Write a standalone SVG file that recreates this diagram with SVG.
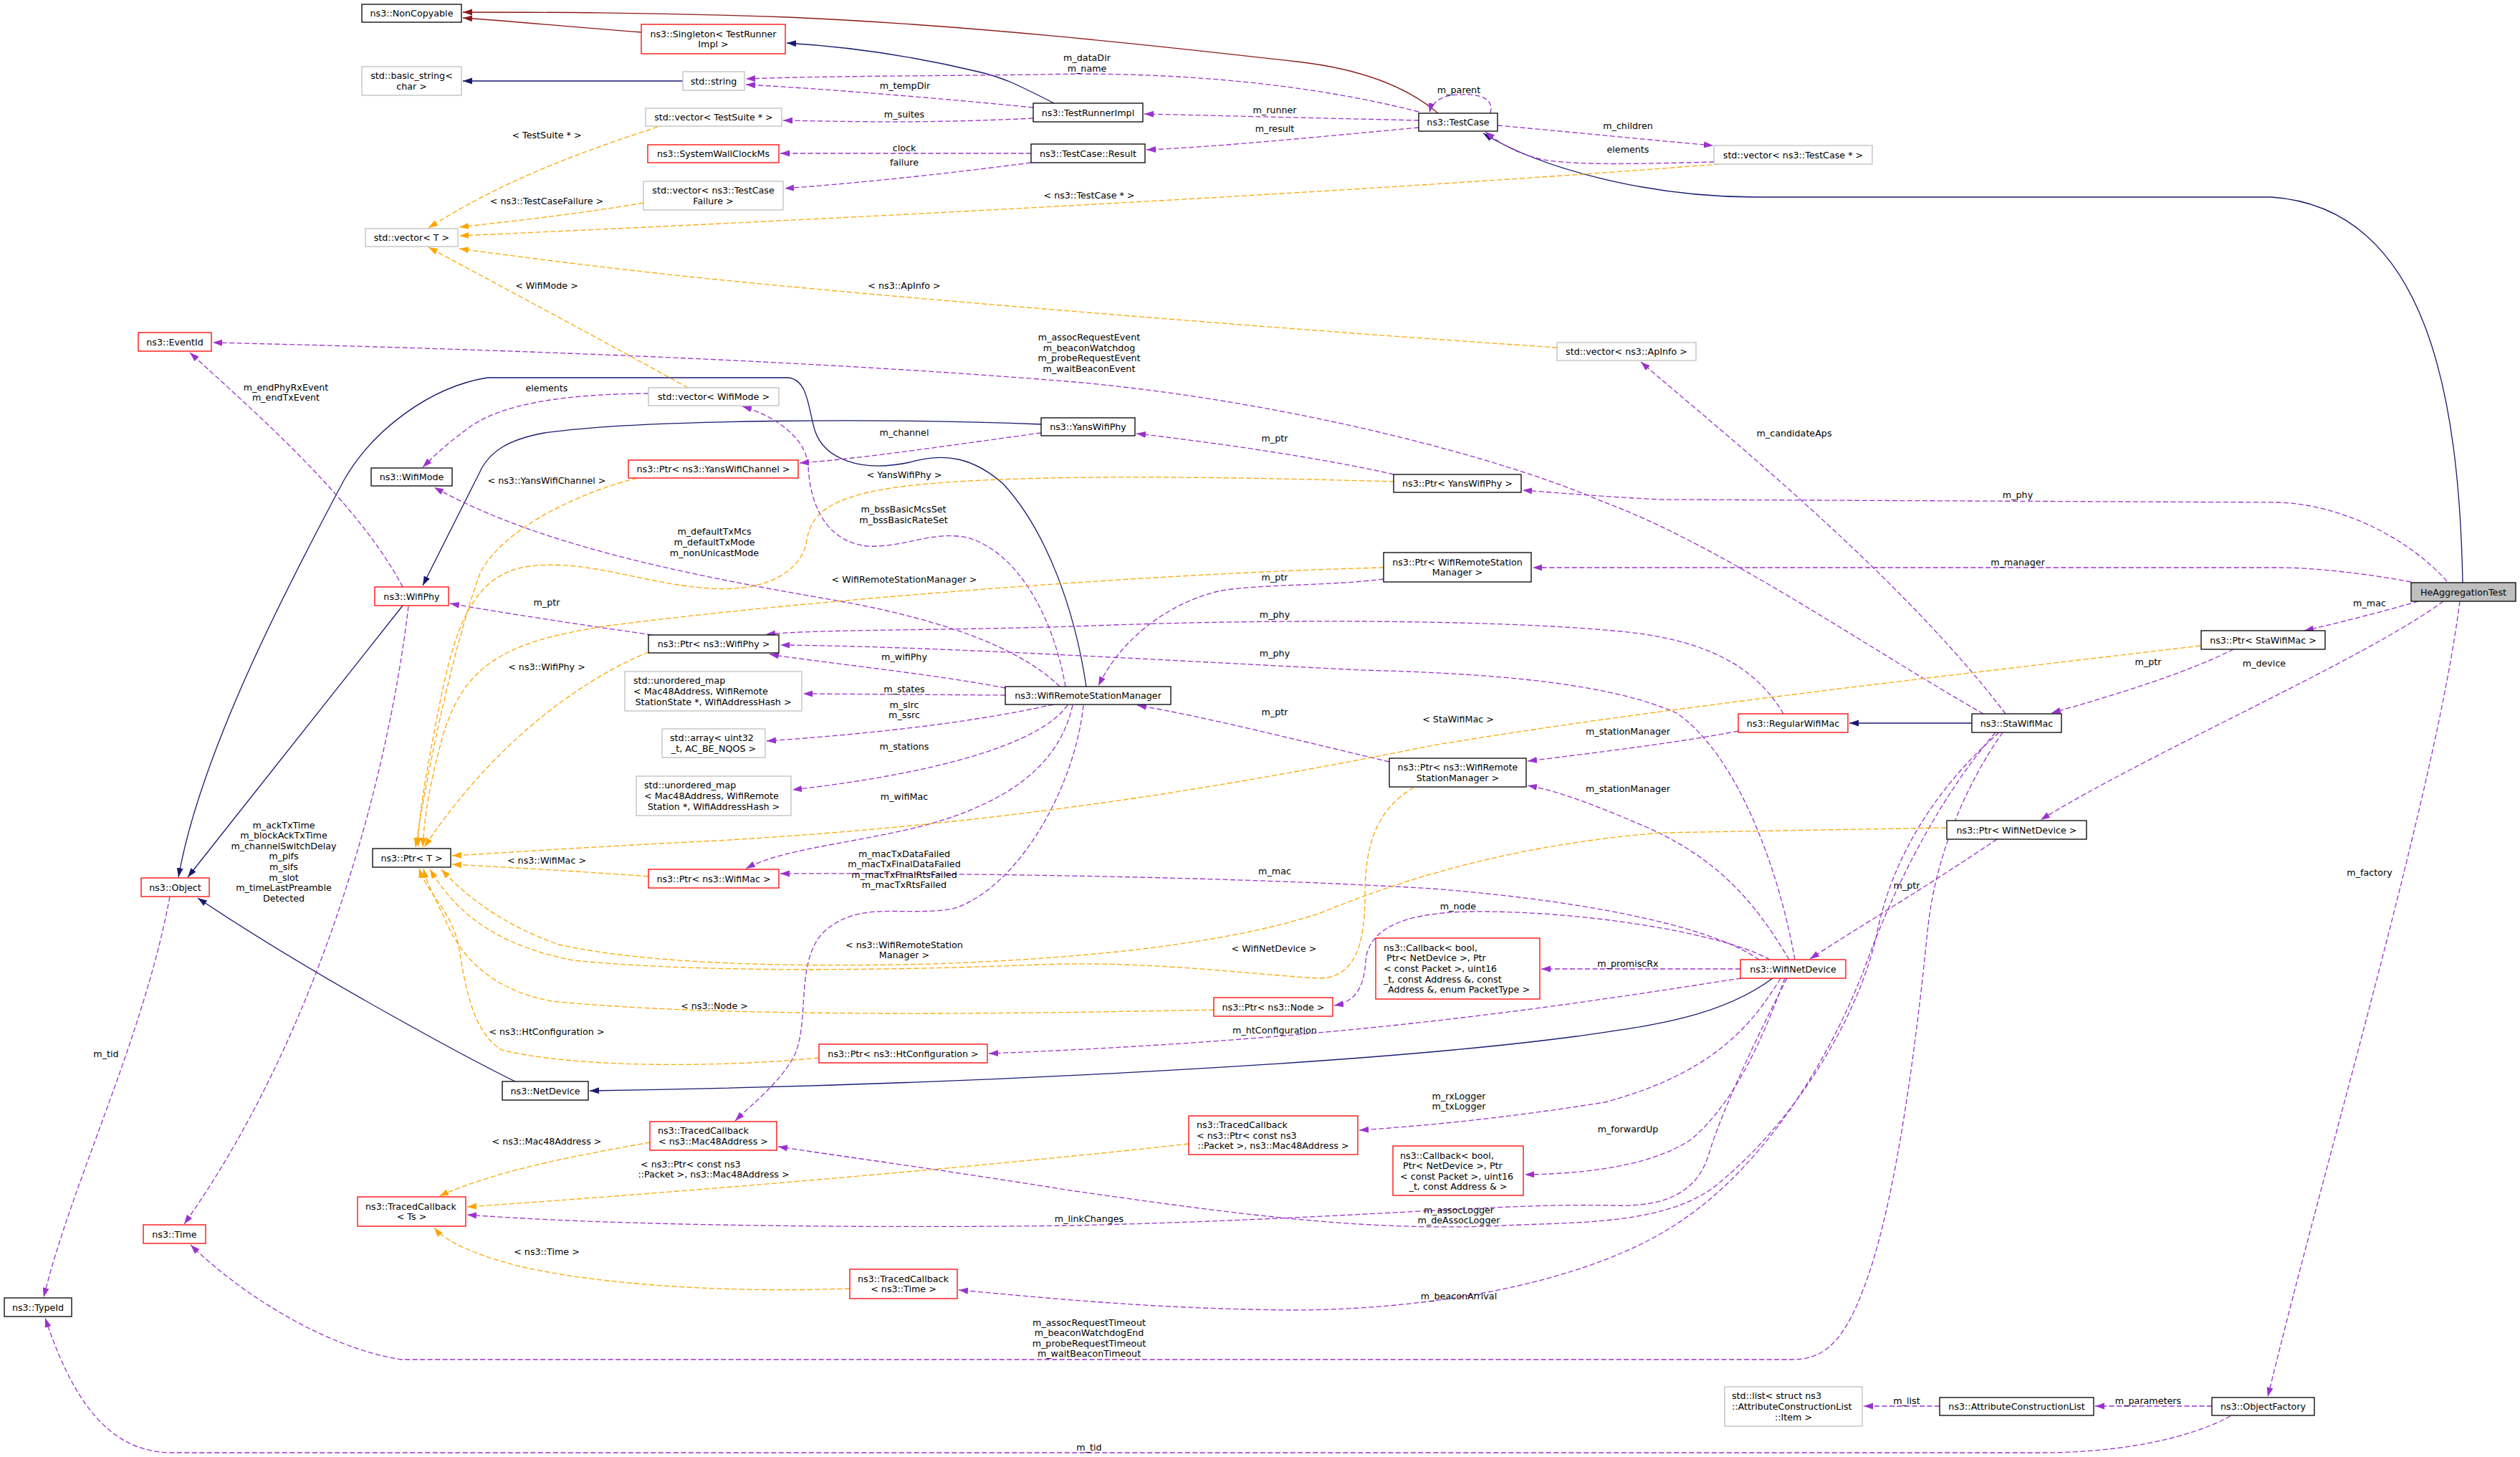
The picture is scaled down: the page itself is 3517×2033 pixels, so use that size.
<svg xmlns="http://www.w3.org/2000/svg" width="3517" height="2033" viewBox="0 0 3517 2033">
<style>
text{font-family:"DejaVu Sans","Liberation Sans",sans-serif;font-size:12.7px;fill:#000}
.c{text-anchor:middle}
.bk{fill:#fff;stroke:#000;stroke-width:1.3}
.rd{fill:#fff;stroke:#f00;stroke-width:1.3}
.gy{fill:#fff;stroke:#bfbfbf;stroke-width:1.3}
.hl{fill:#bfbfbf;stroke:#000;stroke-width:1.3}
.e{fill:none;stroke-width:1.3}
.u{stroke:#9a32cd;stroke-dasharray:7,3.5;marker-end:url(#mp)}
.t{stroke:#ffa500;stroke-dasharray:7,3.5;marker-end:url(#mo)}
.i{stroke:#191970;marker-end:url(#mb)}
.r{stroke:#8b1a1a;marker-end:url(#mr)}
</style>
<defs>
<marker id="mp" markerUnits="userSpaceOnUse" markerWidth="14" markerHeight="10" viewBox="0 0 14 10" refX="13" refY="5" orient="auto"><path d="M0,0.5 L13,5 L0,9.5 z" fill="#9a32cd"/></marker>
<marker id="mo" markerUnits="userSpaceOnUse" markerWidth="14" markerHeight="10" viewBox="0 0 14 10" refX="13" refY="5" orient="auto"><path d="M0,0.5 L13,5 L0,9.5 z" fill="#ffa500"/></marker>
<marker id="mb" markerUnits="userSpaceOnUse" markerWidth="14" markerHeight="10" viewBox="0 0 14 10" refX="13" refY="5" orient="auto"><path d="M0,0.5 L13,5 L0,9.5 z" fill="#191970"/></marker>
<marker id="mr" markerUnits="userSpaceOnUse" markerWidth="14" markerHeight="10" viewBox="0 0 14 10" refX="13" refY="5" orient="auto"><path d="M0,0.5 L13,5 L0,9.5 z" fill="#8b1a1a"/></marker>
</defs>
<rect width="3517" height="2033" fill="#fff"/>
<g id="edges">
<path class="e r" d="M895,45 C800,38 720,30 646,25"/>
<path class="e r" d="M2007,158 C1960,118 1890,95 1810,86 C1600,62 1350,35 1100,24 C900,17 750,17 646,17"/>
<path class="e i" d="M1471,144 C1420,118 1400,108 1365,100 C1290,82 1200,66 1098,60"/>
<path class="e i" d="M953,113 L646,113"/>
<path class="e i" d="M3437,813 C3432,560 3390,290 3170,275 L2450,275 C2300,275 2150,235 2070,186"/>
<path class="e i" d="M562,845 L262,1224"/>
<path class="e i" d="M1453,592 C1250,584 900,584 760,604 C705,614 685,632 673,652 L590,817"/>
<path class="e i" d="M1516,958 C1500,850 1460,740 1400,675 C1360,640 1320,630 1270,645 C1200,660 1150,640 1137,600 C1128,570 1128,530 1100,527 L680,527 C600,540 520,600 480,670 C400,820 280,1050 249,1224"/>
<path class="e i" d="M719,1509 C680,1490 450,1370 276,1253"/>
<path class="e i" d="M2474,1365 C2400,1420 2300,1432 2200,1446 C1900,1486 1300,1515 823,1522"/>
<path class="e i" d="M2752,1009 L2581,1009"/>

<path class="e u" d="M1980,156 C1800,110 1600,100 1450,104 C1300,106 1150,106 1041,110"/>
<path class="e u" d="M1442,150 C1300,136 1150,124 1041,118"/>
<path class="e u" d="M1442,165 C1300,172 1200,170 1093,168"/>
<path class="e u" d="M1980,168 L1597,159"/>
<path class="e u" d="M1980,178 C1850,190 1700,205 1600,209"/>
<path class="e u" d="M1439,214 L1089,214"/>
<path class="e u" d="M1439,227 C1300,245 1200,255 1095,263"/>
<path class="e u" d="M2080,158 C2086,135 2062,131 2036,132 C2010,133 1998,144 1995,157"/>
<path class="e u" d="M2090,175 C2200,185 2300,195 2391,203"/>
<path class="e u" d="M2392,226 C2300,228 2200,232 2150,222 C2110,212 2090,197 2073,184"/>
<path class="e u" d="M905,549 C800,550 700,560 650,600 C620,622 602,640 590,652"/>
<path class="e u" d="M2768,996 C2600,900 2400,760 2237,700 C2100,640 1800,560 1500,533 C1100,500 600,485 297,478"/>
<path class="e u" d="M2799,996 C2650,800 2400,600 2290,505"/>
<path class="e u" d="M1453,604 C1300,625 1200,640 1116,646"/>
<path class="e u" d="M1945,662 C1850,640 1700,618 1586,605"/>
<path class="e u" d="M3415,811 C3370,760 3280,705 3180,701 L2320,697 C2250,694 2180,688 2125,684"/>
<path class="e u" d="M3365,812 C3300,800 3230,792 3180,792 L2139,792"/>
<path class="e u" d="M3375,839 C3320,855 3260,870 3216,880"/>
<path class="e u" d="M3410,839 C3300,920 3000,1050 2848,1144"/>
<path class="e u" d="M3433,839 C3400,1100 3250,1600 3165,1949"/>
<path class="e u" d="M3117,906 C3050,940 2950,970 2863,995"/>
<path class="e u" d="M2787,1171 C2700,1230 2600,1290 2526,1338"/>
<path class="e u" d="M1931,808 C1850,818 1750,815 1700,825 C1620,845 1560,900 1533,957"/>
<path class="e u" d="M910,886 C800,870 700,855 628,842"/>
<path class="e u" d="M1479,958 C1420,900 1300,860 1150,835 C950,800 750,760 606,680"/>
<path class="e u" d="M1487,958 C1470,860 1420,770 1350,750 C1300,740 1260,765 1210,762 C1150,755 1130,700 1128,650 C1125,610 1080,580 1036,567"/>
<path class="e u" d="M1403,960 C1300,940 1150,925 1074,913"/>
<path class="e u" d="M1403,970 L1121,968"/>
<path class="e u" d="M1470,983 C1350,1010 1200,1025 1070,1034"/>
<path class="e u" d="M1490,984 C1450,1040 1300,1080 1106,1102"/>
<path class="e u" d="M1497,984 C1480,1060 1420,1110 1320,1143 C1220,1175 1100,1180 1041,1212"/>
<path class="e u" d="M1512,984 C1500,1100 1420,1240 1330,1268 C1260,1280 1200,1255 1150,1300 C1110,1340 1130,1420 1110,1470 C1090,1510 1050,1540 1026,1564"/>
<path class="e u" d="M1939,1063 C1800,1030 1680,1000 1587,984"/>
<path class="e u" d="M2426,1020 C2350,1035 2230,1050 2132,1062"/>
<path class="e u" d="M2497,1339 C2450,1260 2400,1200 2300,1155 C2230,1125 2180,1105 2132,1096"/>
<path class="e u" d="M2489,996 C2450,930 2380,890 2250,880 C2100,866 1800,862 1500,874 C1300,880 1150,878 1069,885"/>
<path class="e u" d="M2505,1339 C2480,1200 2420,1050 2340,995 C2250,955 2100,940 1900,935 C1600,920 1300,902 1089,900"/>
<path class="e u" d="M2455,1339 C2400,1300 2250,1260 2000,1240 C1700,1222 1300,1218 1089,1219"/>
<path class="e u" d="M2470,1339 C2400,1300 2200,1270 2050,1272 C1950,1274 1910,1300 1906,1340 C1904,1380 1890,1398 1862,1403"/>
<path class="e u" d="M2429,1352 L2151,1352"/>
<path class="e u" d="M2430,1365 C2200,1400 1900,1450 1380,1470"/>
<path class="e u" d="M2485,1365 C2440,1440 2380,1500 2240,1538 C2100,1560 2000,1570 1897,1577"/>
<path class="e u" d="M2491,1365 C2460,1450 2420,1540 2360,1590 C2300,1630 2200,1638 2128,1639"/>
<path class="e u" d="M2494,1365 C2440,1470 2400,1560 2385,1610 C2370,1660 2330,1685 2250,1682 C2100,1678 1900,1700 1500,1710 C1200,1714 850,1710 652,1695"/>
<path class="e u" d="M2790,1022 C2700,1100 2640,1200 2620,1300 C2600,1400 2520,1550 2400,1650 C2330,1710 2200,1705 2100,1710 C1900,1720 1700,1690 1500,1662 C1300,1630 1150,1610 1086,1600"/>
<path class="e u" d="M2785,1022 C2700,1120 2640,1250 2610,1330 C2560,1470 2460,1640 2320,1720 C2200,1790 2000,1828 1800,1828 C1600,1826 1450,1810 1338,1800"/>
<path class="e u" d="M2795,1022 C2740,1100 2700,1200 2690,1300 C2670,1500 2640,1700 2600,1800 C2570,1880 2540,1897 2500,1897 L560,1897 C450,1880 330,1800 266,1737"/>
<path class="e u" d="M3113,1976 C3050,2010 2950,2027 2850,2027 L240,2027 C150,2027 100,1950 63,1839"/>
<path class="e u" d="M237,1251 C200,1450 100,1650 61,1810"/>
<path class="e u" d="M562,819 C500,700 350,570 265,492"/>
<path class="e u" d="M570,846 C540,1100 440,1450 257,1708"/>
<path class="e u" d="M3087,1962 L2924,1962"/>
<path class="e u" d="M2707,1962 L2601,1962"/>

<path class="e t" d="M2400,229 C2000,260 1400,295 641,329"/>
<path class="e t" d="M918,177 C850,200 720,240 598,318"/>
<path class="e t" d="M898,283 C800,300 700,310 641,317"/>
<path class="e t" d="M2173,485 C1800,460 1300,420 1000,390 C850,375 700,355 641,347"/>
<path class="e t" d="M960,541 C850,480 700,400 598,345"/>
<path class="e t" d="M889,667 C800,690 700,740 670,800 C640,880 600,1050 580,1182"/>
<path class="e t" d="M1946,672 C1700,665 1400,660 1250,680 C1150,695 1130,720 1125,760 C1110,810 1050,825 990,821 C900,815 820,780 740,790 C650,800 630,900 610,1000 C595,1080 585,1130 583,1182"/>
<path class="e t" d="M1931,792 C1600,800 1100,840 850,873 C700,895 650,930 620,1020 C600,1090 592,1140 590,1182"/>
<path class="e t" d="M905,910 C830,940 700,1020 592,1182"/>
<path class="e t" d="M3071,901 C2700,945 2300,990 2000,1040 C1700,1100 1400,1150 1000,1173 C800,1183 700,1190 631,1194"/>
<path class="e t" d="M905,1223 C800,1215 700,1210 631,1206"/>
<path class="e t" d="M2716,1155 L2317,1162 C2100,1180 1950,1230 1840,1275 C1700,1320 1500,1338 1300,1345 C1100,1350 900,1345 780,1318 C700,1290 650,1250 616,1213"/>
<path class="e t" d="M1973,1099 C1920,1130 1905,1180 1905,1250 C1905,1320 1890,1365 1840,1365 C1750,1360 1600,1340 1450,1346 C1300,1352 1000,1360 800,1340 C700,1320 640,1280 600,1213"/>
<path class="e t" d="M1694,1409 C1400,1415 1000,1420 770,1397 C680,1380 640,1330 620,1280 C605,1250 595,1230 591,1212"/>
<path class="e t" d="M1143,1476 C1000,1490 800,1490 700,1465 C660,1440 650,1380 640,1320 C630,1270 595,1245 585,1212"/>
<path class="e t" d="M907,1594 C820,1610 700,1630 613,1669"/>
<path class="e t" d="M1659,1596 C1400,1625 1000,1660 652,1684"/>
<path class="e t" d="M1186,1798 C1000,1805 800,1790 700,1760 C650,1745 620,1730 606,1713"/>

<g class="c">
<text x="1517" y="85">m_dataDir</text><text x="1517" y="100">m_name</text>
<text x="1263" y="123.5">m_tempDir</text>
<text x="1262" y="163.5">m_suites</text>
<text x="1779" y="157.5">m_runner</text>
<text x="1779" y="183.5">m_result</text>
<text x="1262" y="210.5">clock</text>
<text x="1262" y="230.5">failure</text>
<text x="2036" y="129.5">m_parent</text>
<text x="2272" y="179.5">m_children</text>
<text x="2272" y="212.5">elements</text>
<text x="1520" y="276.5">&lt; ns3::TestCase * &gt;</text>
<text x="763" y="192.5">&lt; TestSuite * &gt;</text>
<text x="763" y="284.5">&lt; ns3::TestCaseFailure &gt;</text>
<text x="1262" y="402.5">&lt; ns3::ApInfo &gt;</text>
<text x="763" y="402.5">&lt; WifiMode &gt;</text>
<text x="763" y="545.5">elements</text>
<text x="1520" y="475">m_assocRequestEvent</text><text x="1520" y="489.5">m_beaconWatchdog</text><text x="1520" y="504">m_probeRequestEvent</text><text x="1520" y="519">m_waitBeaconEvent</text>
<text x="2504" y="608.5">m_candidateAps</text>
<text x="1262" y="607.5">m_channel</text>
<text x="1779" y="615.5">m_ptr</text>
<text x="2816" y="695">m_phy</text>
<text x="2816" y="788.5">m_manager</text>
<text x="3307" y="845.5">m_mac</text>
<text x="3160" y="929.5">m_device</text>
<text x="3307" y="1221.5">m_factory</text>
<text x="2998" y="927.5">m_ptr</text>
<text x="2661" y="1239.5">m_ptr</text>
<text x="2035" y="1007.5">&lt; StaWifiMac &gt;</text>
<text x="1778" y="1327.5">&lt; WifiNetDevice &gt;</text>
<text x="1262" y="666.5">&lt; YansWifiPhy &gt;</text>
<text x="1262" y="812.5">&lt; WifiRemoteStationManager &gt;</text>
<text x="1779" y="809.5">m_ptr</text>
<text x="763" y="674.5">&lt; ns3::YansWifiChannel &gt;</text>
<text x="763" y="934.5">&lt; ns3::WifiPhy &gt;</text>
<text x="763" y="844.5">m_ptr</text>
<text x="763" y="1204.5">&lt; ns3::WifiMac &gt;</text>
<text x="997" y="746">m_defaultTxMcs</text><text x="997" y="760.5">m_defaultTxMode</text><text x="997" y="775.5">m_nonUnicastMode</text>
<text x="1261" y="714.5">m_bssBasicMcsSet</text><text x="1261" y="729.5">m_bssBasicRateSet</text>
<text x="1262" y="920.5">m_wifiPhy</text>
<text x="1262" y="965.5">m_states</text>
<text x="1262" y="987.5">m_slrc</text><text x="1262" y="1001.5">m_ssrc</text>
<text x="1262" y="1045.5">m_stations</text>
<text x="1262" y="1115.5">m_wifiMac</text>
<text x="1262" y="1195.5">m_macTxDataFailed</text><text x="1262" y="1210.1">m_macTxFinalDataFailed</text><text x="1262" y="1224.7">m_macTxFinalRtsFailed</text><text x="1262" y="1239.3">m_macTxRtsFailed</text>
<text x="1779" y="997.5">m_ptr</text>
<text x="2272" y="1024.5">m_stationManager</text>
<text x="2272" y="1104.5">m_stationManager</text>
<text x="1779" y="861.5">m_phy</text>
<text x="1779" y="915.5">m_phy</text>
<text x="1779" y="1219.5">m_mac</text>
<text x="2035" y="1268.5">m_node</text>
<text x="2272" y="1348.5">m_promiscRx</text>
<text x="1779" y="1441.5">m_htConfiguration</text>
<text x="2036" y="1533.5">m_rxLogger</text><text x="2036" y="1548">m_txLogger</text>
<text x="2272" y="1579.5">m_forwardUp</text>
<text x="1520" y="1704.5">m_linkChanges</text>
<text x="2036" y="1692.5">m_assocLogger</text><text x="2036" y="1707">m_deAssocLogger</text>
<text x="2036" y="1812.5">m_beaconArrival</text>
<text x="1520" y="1849.5">m_assocRequestTimeout</text><text x="1520" y="1864">m_beaconWatchdogEnd</text><text x="1520" y="1878.5">m_probeRequestTimeout</text><text x="1520" y="1893">m_waitBeaconTimeout</text>
<text x="1520" y="2023.5">m_tid</text>
<text x="148" y="1474.5">m_tid</text>
<text x="399" y="544.5">m_endPhyRxEvent</text><text x="399" y="559">m_endTxEvent</text>
<text x="396" y="1155.5">m_ackTxTime</text><text x="396" y="1170.1">m_blockAckTxTime</text><text x="396" y="1184.7">m_channelSwitchDelay</text><text x="396" y="1199.3">m_pifs</text><text x="396" y="1213.9">m_sifs</text><text x="396" y="1228.5">m_slot</text><text x="396" y="1243.1">m_timeLastPreamble</text><text x="396" y="1257.7">Detected</text>
<text x="2998" y="1958.5">m_parameters</text>
<text x="2661" y="1958.5">m_list</text>
<text x="997" y="1407.5">&lt; ns3::Node &gt;</text>
<text x="763" y="1443.5">&lt; ns3::HtConfiguration &gt;</text>
<text x="1262" y="1322.5">&lt; ns3::WifiRemoteStation</text><text x="1262" y="1337">Manager &gt;</text>
<text x="763" y="1596.5">&lt; ns3::Mac48Address &gt;</text>
<text x="996" y="1643">::Packet &gt;, ns3::Mac48Address &gt;</text>
<text x="763" y="1750.5">&lt; ns3::Time &gt;</text>
</g>
<text x="894" y="1628.5">&lt; ns3::Ptr&lt; const ns3</text>
</g>

<g id="n_noncopyable"><rect class="bk" x="505" y="6" width="139" height="25"/><text class="c" x="574.5" y="23">ns3::NonCopyable</text></g>
<g id="n_singleton"><rect class="rd" x="895" y="34" width="201" height="41"/><text class="c" x="995.5" y="51.7">ns3::Singleton&lt; TestRunner</text><text class="c" x="995.5" y="66.3">Impl &gt;</text></g>
<g id="n_basicstring"><rect class="gy" x="505" y="93" width="139" height="40"/><text class="c" x="574.5" y="110.2">std::basic_string&lt;</text><text class="c" x="574.5" y="124.8">char &gt;</text></g>
<g id="n_string"><rect class="gy" x="953" y="100" width="86" height="26"/><text class="c" x="996" y="117.5">std::string</text></g>
<g id="n_vtestsuite"><rect class="gy" x="901" y="151" width="190" height="25"/><text class="c" x="996" y="168">std::vector&lt; TestSuite * &gt;</text></g>
<g id="n_sysclock"><rect class="rd" x="904" y="202" width="183" height="25"/><text class="c" x="995.5" y="219">ns3::SystemWallClockMs</text></g>
<g id="n_vfailure"><rect class="gy" x="898" y="253" width="195" height="40"/><text class="c" x="995.5" y="270.2">std::vector&lt; ns3::TestCase</text><text class="c" x="995.5" y="284.8">Failure &gt;</text></g>
<g id="n_vectorT"><rect class="gy" x="510" y="319" width="129" height="25"/><text class="c" x="574.5" y="336">std::vector&lt; T &gt;</text></g>
<g id="n_eventid"><rect class="rd" x="193" y="464" width="102" height="26"/><text class="c" x="244" y="481.5">ns3::EventId</text></g>
<g id="n_vwifimode"><rect class="gy" x="905" y="541" width="182" height="25"/><text class="c" x="996" y="558">std::vector&lt; WifiMode &gt;</text></g>
<g id="n_wifimode"><rect class="bk" x="518" y="653" width="113" height="25"/><text class="c" x="574.5" y="670">ns3::WifiMode</text></g>
<g id="n_ptryanschan"><rect class="rd" x="877" y="642" width="237" height="25"/><text class="c" x="995.5" y="659">ns3::Ptr&lt; ns3::YansWifiChannel &gt;</text></g>
<g id="n_testrunnerimpl"><rect class="bk" x="1442" y="144" width="153" height="26"/><text class="c" x="1518.5" y="161.5">ns3::TestRunnerImpl</text></g>
<g id="n_result"><rect class="bk" x="1439" y="201" width="159" height="26"/><text class="c" x="1518.5" y="218.5">ns3::TestCase::Result</text></g>
<g id="n_testcase"><rect class="bk" x="1980" y="158" width="110" height="25"/><text class="c" x="2035" y="175">ns3::TestCase</text></g>
<g id="n_vapinfo"><rect class="gy" x="2173" y="478" width="194" height="25"/><text class="c" x="2270" y="495">std::vector&lt; ns3::ApInfo &gt;</text></g>
<g id="n_yanswifiphy"><rect class="bk" x="1453" y="583" width="131" height="25"/><text class="c" x="1518.5" y="600">ns3::YansWifiPhy</text></g>
<g id="n_ptryansphy"><rect class="bk" x="1945" y="662" width="178" height="25"/><text class="c" x="2034" y="679">ns3::Ptr&lt; YansWifiPhy &gt;</text></g>
<g id="n_vtestcase"><rect class="gy" x="2392" y="203" width="221" height="26"/><text class="c" x="2502.5" y="220.5">std::vector&lt; ns3::TestCase * &gt;</text></g>
<g id="n_wifiphy"><rect class="rd" x="523" y="819" width="103" height="26"/><text class="c" x="574.5" y="836.5">ns3::WifiPhy</text></g>
<g id="n_ptrwifiphy"><rect class="bk" x="905" y="886" width="182" height="25"/><text class="c" x="996" y="903">ns3::Ptr&lt; ns3::WifiPhy &gt;</text></g>
<g id="n_umapstate"><rect class="gy" x="872" y="937" width="247" height="55"/><text x="884" y="954.4">std::unordered_map</text><text x="884" y="969">&lt; Mac48Address, WifiRemote</text><text class="c" x="995.5" y="983.6">StationState *, WifiAddressHash &gt;</text></g>
<g id="n_array"><rect class="gy" x="924" y="1017" width="144" height="40"/><text x="935" y="1034.2">std::array&lt; uint32</text><text class="c" x="996" y="1048.8">_t, AC_BE_NQOS &gt;</text></g>
<g id="n_umapstation"><rect class="gy" x="888" y="1083" width="216" height="55"/><text x="899" y="1100.4">std::unordered_map</text><text x="899" y="1115">&lt; Mac48Address, WifiRemote</text><text class="c" x="996" y="1129.6">Station *, WifiAddressHash &gt;</text></g>
<g id="n_ptrT"><rect class="bk" x="520" y="1184" width="109" height="26"/><text class="c" x="574.5" y="1201.5">ns3::Ptr&lt; T &gt;</text></g>
<g id="n_ptrwifimac"><rect class="rd" x="905" y="1213" width="182" height="26"/><text class="c" x="996" y="1230.5">ns3::Ptr&lt; ns3::WifiMac &gt;</text></g>
<g id="n_object"><rect class="rd" x="197" y="1225" width="95" height="26"/><text class="c" x="244.5" y="1242.5">ns3::Object</text></g>
<g id="n_ptrwrsm"><rect class="bk" x="1931" y="771" width="206" height="41"/><text class="c" x="2034" y="788.7">ns3::Ptr&lt; WifiRemoteStation</text><text class="c" x="2034" y="803.3">Manager &gt;</text></g>
<g id="n_wrsm"><rect class="bk" x="1403" y="958" width="231" height="25"/><text class="c" x="1518.5" y="975">ns3::WifiRemoteStationManager</text></g>
<g id="n_ptrwrsm2"><rect class="bk" x="1939" y="1058" width="191" height="40"/><text class="c" x="2034.5" y="1075.2">ns3::Ptr&lt; ns3::WifiRemote</text><text class="c" x="2034.5" y="1089.8">StationManager &gt;</text></g>
<g id="n_callback1"><rect class="rd" x="1920" y="1309" width="229" height="85"/><text x="1931" y="1326.8">ns3::Callback&lt; bool,</text><text x="1935" y="1341.4">Ptr&lt; NetDevice &gt;, Ptr</text><text x="1931" y="1356">&lt; const Packet &gt;, uint16</text><text x="1931" y="1370.6">_t, const Address &amp;, const</text><text class="c" x="2036" y="1385.2">Address &amp;, enum PacketType &gt;</text></g>
<g id="n_heagg"><rect class="hl" x="3365" y="813" width="146" height="26"/><text class="c" x="3438" y="830.5">HeAggregationTest</text></g>
<g id="n_ptrstamac"><rect class="bk" x="3072" y="880" width="173" height="26"/><text class="c" x="3158.5" y="897.5">ns3::Ptr&lt; StaWifiMac &gt;</text></g>
<g id="n_regularwifimac"><rect class="rd" x="2426" y="996" width="153" height="26"/><text class="c" x="2502.5" y="1013.5">ns3::RegularWifiMac</text></g>
<g id="n_stawifimac"><rect class="bk" x="2752" y="996" width="125" height="26"/><text class="c" x="2814.5" y="1013.5">ns3::StaWifiMac</text></g>
<g id="n_ptrwifinetdev"><rect class="bk" x="2717" y="1145" width="195" height="26"/><text class="c" x="2814.5" y="1162.5">ns3::Ptr&lt; WifiNetDevice &gt;</text></g>
<g id="n_wifinetdevice"><rect class="rd" x="2429" y="1339" width="147" height="26"/><text class="c" x="2502.5" y="1356.5">ns3::WifiNetDevice</text></g>
<g id="n_netdevice"><rect class="bk" x="701" y="1509" width="120" height="26"/><text class="c" x="761" y="1526.5">ns3::NetDevice</text></g>
<g id="n_tcmac48"><rect class="rd" x="907" y="1565" width="177" height="40"/><text x="918" y="1582.2">ns3::TracedCallback</text><text class="c" x="995.5" y="1596.8">&lt; ns3::Mac48Address &gt;</text></g>
<g id="n_tcts"><rect class="rd" x="499" y="1670" width="151" height="41"/><text x="510" y="1687.7">ns3::TracedCallback</text><text class="c" x="574.5" y="1702.3">&lt; Ts &gt;</text></g>
<g id="n_time"><rect class="rd" x="200" y="1709" width="87" height="26"/><text class="c" x="243.5" y="1726.5">ns3::Time</text></g>
<g id="n_typeid"><rect class="bk" x="6" y="1811" width="94" height="26"/><text class="c" x="53" y="1828.5">ns3::TypeId</text></g>
<g id="n_ptrhtconf"><rect class="rd" x="1143" y="1457" width="235" height="26"/><text class="c" x="1260.5" y="1474.5">ns3::Ptr&lt; ns3::HtConfiguration &gt;</text></g>
<g id="n_ptrnode"><rect class="rd" x="1694" y="1392" width="166" height="26"/><text class="c" x="1777" y="1409.5">ns3::Ptr&lt; ns3::Node &gt;</text></g>
<g id="n_tcpkt"><rect class="rd" x="1659" y="1557" width="236" height="54"/><text x="1670" y="1573.9">ns3::TracedCallback</text><text x="1670" y="1588.5">&lt; ns3::Ptr&lt; const ns3</text><text class="c" x="1777" y="1603.1">::Packet &gt;, ns3::Mac48Address &gt;</text></g>
<g id="n_callback2"><rect class="rd" x="1944" y="1599" width="182" height="69"/><text x="1954" y="1616.6">ns3::Callback&lt; bool,</text><text x="1958" y="1631.2">Ptr&lt; NetDevice &gt;, Ptr</text><text x="1954" y="1645.8">&lt; const Packet &gt;, uint16</text><text class="c" x="2035" y="1660.4">_t, const Address &amp; &gt;</text></g>
<g id="n_tctime"><rect class="rd" x="1186" y="1771" width="150" height="41"/><text x="1197" y="1788.7">ns3::TracedCallback</text><text class="c" x="1261" y="1803.3">&lt; ns3::Time &gt;</text></g>
<g id="n_stdlist"><rect class="gy" x="2407" y="1935" width="192" height="55"/><text x="2417" y="1952.4">std::list&lt; struct ns3</text><text x="2417" y="1967">::AttributeConstructionList</text><text class="c" x="2503" y="1981.6">::Item &gt;</text></g>
<g id="n_attrlist"><rect class="bk" x="2707" y="1950" width="215" height="25"/><text class="c" x="2814.5" y="1967">ns3::AttributeConstructionList</text></g>
<g id="n_objfactory"><rect class="bk" x="3087" y="1950" width="143" height="25"/><text class="c" x="3158.5" y="1967">ns3::ObjectFactory</text></g>
</svg>
